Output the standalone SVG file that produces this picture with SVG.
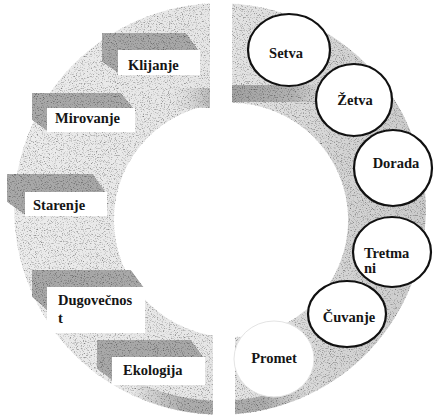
<svg xmlns="http://www.w3.org/2000/svg" width="437" height="415" viewBox="0 0 437 415">
  <defs>
    <filter id="tex" x="0" y="0" width="1" height="1" color-interpolation-filters="sRGB">
      <feTurbulence type="fractalNoise" baseFrequency="0.85" numOctaves="2" seed="7" result="n"/>
      <feColorMatrix in="n" type="matrix" values="1.3 0 0 0 0.38  1.3 0 0 0 0.38  1.3 0 0 0 0.38  0 0 0 0 1" result="g"/>
      <feBlend in="SourceGraphic" in2="g" mode="multiply" result="b"/>
      <feComposite in="b" in2="SourceGraphic" operator="in"/>
    </filter>
    <linearGradient id="ringFill" x1="0" y1="0" x2="1" y2="0">
      <stop offset="0" stop-color="#ececec"/>
      <stop offset="0.5" stop-color="#e6e6e6"/>
      <stop offset="0.8" stop-color="#d4d4d4"/>
      <stop offset="1" stop-color="#cbcbcb"/>
    </linearGradient>
    <linearGradient id="bandR" x1="0" y1="0" x2="1" y2="0">
      <stop offset="0" stop-color="#a2a2a2"/>
      <stop offset="0.6" stop-color="#b2b2b2"/>
      <stop offset="1" stop-color="#d6d6d6" stop-opacity="0"/>
    </linearGradient>
    <linearGradient id="bandL" x1="1" y1="0" x2="0" y2="0">
      <stop offset="0" stop-color="#b8b8b8"/>
      <stop offset="1" stop-color="#d8d8d8" stop-opacity="0"/>
    </linearGradient>
    <linearGradient id="bandB" gradientUnits="userSpaceOnUse" x1="130" y1="0" x2="310" y2="0">
      <stop offset="0" stop-color="#b0b0b0" stop-opacity="0"/>
      <stop offset="0.3" stop-color="#acacac"/>
      <stop offset="0.75" stop-color="#acacac"/>
      <stop offset="1" stop-color="#b0b0b0" stop-opacity="0"/>
    </linearGradient>
    <style>
      .dark { fill: #a8a8a8; filter: url(#tex); }
      .box { fill: #ffffff; }
      .lbl { font-family: "Liberation Serif", "DejaVu Serif", serif; font-weight: bold; font-size: 14.5px; fill: #151515; }
      .node { fill: #ffffff; stroke: #111111; stroke-width: 2.2; }
    </style>
  </defs>

  <rect width="437" height="415" fill="#ffffff"/>

  <g id="ring">
    <g filter="url(#tex)">
      <path fill="url(#ringFill)" fill-rule="evenodd" d="M 14,209 A 206 206 0 1 0 426,209 A 206 206 0 1 0 14,209 Z M 114,220 A 117 117 0 1 0 348,220 A 117 117 0 1 0 114,220 Z"/>
      <polygon points="232,85 318,85 336,102 232,102" fill="url(#bandR)"/>
      <polygon points="170,88 211,88 211,108 170,108" fill="url(#bandL)"/>
      <path d="M 136,389 A 199 199 0 0 0 304,389" fill="none" stroke="url(#bandB)" stroke-width="14"/>
    </g>
    <rect x="210" y="0" width="22" height="112" fill="#ffffff"/>
    <rect x="213" y="333" width="22" height="82" fill="#ffffff"/>
  </g>

  <g id="connectors"/>

  <g id="klijanje">
    <polygon class="dark" points="102,33 186,33 200,52 200,75 118,75 118,73 102,62"/>
    <rect class="box" x="118" y="50" width="82" height="25"/>
    <text class="lbl" x="128" y="70">Klijanje</text>
  </g>
  <g id="mirovanje">
    <polygon class="dark" points="32,93 121,93 135,110 135,132 47,132 47,131 32,120"/>
    <rect class="box" x="47" y="108" width="88" height="24"/>
    <text class="lbl" x="55" y="123">Mirovanje</text>
  </g>
  <g id="starenje">
    <polygon class="dark" points="7,174 93,174 107,194 107,216 25,216 25,215 7,202"/>
    <rect class="box" x="25" y="192" width="82" height="24"/>
    <text class="lbl" x="33" y="210">Starenje</text>
  </g>
  <g id="dugovecnost">
    <polygon class="dark" points="32,270 131,270 145,289 145,333 47,333 47,310 32,297"/>
    <rect class="box" x="47" y="287" width="98" height="46"/>
    <text class="lbl" x="58" y="305">Dugovečnos</text>
    <text class="lbl" x="58" y="323">t</text>
  </g>
  <g id="ekologija">
    <polygon class="dark" points="97,340 191,340 205,359 205,385 112,385 112,380 97,369"/>
    <rect class="box" x="112" y="357" width="93" height="28"/>
    <text class="lbl" x="123" y="375">Ekologija</text>
  </g>

  <g id="setva">
    <ellipse class="node" cx="289" cy="50" rx="41" ry="36"/>
    <text class="lbl" x="286" y="58" text-anchor="middle">Setva</text>
  </g>
  <g id="zetva">
    <ellipse class="node" cx="354" cy="100" rx="38" ry="36"/>
    <text class="lbl" x="355" y="105" text-anchor="middle">Žetva</text>
  </g>
  <g id="dorada">
    <ellipse class="node" cx="393" cy="168" rx="39" ry="38"/>
    <text class="lbl" x="396" y="168" text-anchor="middle">Dorada</text>
  </g>
  <g id="tretmani">
    <ellipse class="node" cx="392" cy="252" rx="39" ry="35"/>
    <text class="lbl" x="364" y="258">Tretma</text>
    <text class="lbl" x="364" y="273">ni</text>
  </g>
  <g id="cuvanje">
    <ellipse class="node" cx="347" cy="314" rx="39" ry="33"/>
    <text class="lbl" x="349" y="322" text-anchor="middle">Čuvanje</text>
  </g>
  <g id="promet">
    <ellipse cx="274" cy="359" rx="40" ry="38" fill="#ffffff" stroke="#e4e4e4" stroke-width="1"/>
    <text class="lbl" x="274" y="363" text-anchor="middle">Promet</text>
  </g>
</svg>
